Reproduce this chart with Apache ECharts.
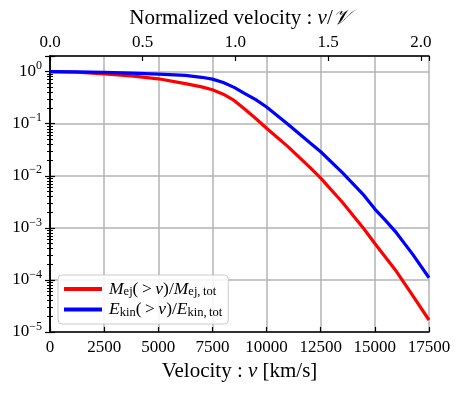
<!DOCTYPE html>
<html>
<head>
<meta charset="utf-8">
<script src="https://cdn.jsdelivr.net/npm/echarts@6/dist/echarts.min.js"></script>
<style>html,body{margin:0;padding:0;background:#fff;}#c{width:463px;height:393px;}</style>
</head>
<body>
<div id="c"></div>
<script>
// ---- data ----
const velocity = [0, 1250, 2500, 3750, 5000, 6250, 7000, 7500, 8000, 8500, 9000, 9500, 10000, 11000, 12000, 12500, 13500, 14500, 15000, 15500, 16000, 16750, 17500];
const massFrac = [1.0, 0.975, 0.91, 0.83, 0.73, 0.59, 0.51, 0.45, 0.37, 0.28, 0.19, 0.126, 0.082, 0.036, 0.0145, 0.009, 0.0031, 0.00095, 0.0005, 0.00027, 0.000145, 0.00005, 0.000017];
const energyFrac = [1.0, 0.99, 0.97, 0.94, 0.90, 0.85, 0.78, 0.72, 0.62, 0.50, 0.38, 0.29, 0.21, 0.097, 0.043, 0.029, 0.0115, 0.0042, 0.0023, 0.00138, 0.0008, 0.00031, 0.00011];
const xTicks = [0, 2500, 5000, 7500, 10000, 12500, 15000, 17500];
const topTicks = [0.0, 0.5, 1.0, 1.5, 2.0];
const vScale = 8565; // characteristic velocity (km/s) for the top axis
const xMax = 17500;
const yMin = 1e-5, yMax = 2;

const FONT = '"Liberation Serif", "DejaVu Serif", serif';
const gridColor = '#b3b3b3';

function pairs(xs, ys) { return xs.map((x, i) => [x, ys[i]]); }

function supLabel(v) {
  const e = Math.log10(v);
  const r = Math.round(e);
  if (Math.abs(e - r) > 1e-6) return '';
  const s = r < 0 ? '\u2212' + (-r) : String(r);
  return '{b|10}{e|' + s + '}';
}

const richY = {
  b: { fontFamily: FONT, fontSize: 17, color: '#000' },
  e: { fontFamily: FONT, fontSize: 12, color: '#000', padding: [0, 0, 11, 0] }
};

const chart = echarts.init(document.getElementById('c'), null, { renderer: 'canvas' });

const legendRich = {
  i: { fontFamily: FONT, fontSize: 17.5, fontStyle: 'italic', color: '#000' },
  n: { fontFamily: FONT, fontSize: 17.5, color: '#000' },
  s: { fontFamily: FONT, fontSize: 12.5, color: '#000', padding: [6, 0, 0, 0] }
};

const option = {
  animation: false,
  backgroundColor: '#fff',
  grid: { left: 50, right: 34, top: 56, bottom: 61, containLabel: false, outerBoundsMode: 'none' },
  legend: {
    orient: 'vertical',
    left: 58, top: 275,
    itemWidth: 38, itemHeight: 4,
    itemGap: 2,
    icon: 'rect',
    padding: [5, 6, 5, 6],
    backgroundColor: 'rgba(255,255,255,0.85)',
    borderColor: '#cccccc', borderWidth: 1, borderRadius: 4,
    data: ['M', 'E'],
    formatter: function (name) {
      if (name === 'M') return '{i|M}{s|ej}{n|(\u2009>\u2009}{i|v}{n|)/}{i|M}{s|ej,\u2009tot}';
      return '{i|E}{s|kin}{n|(\u2009>\u2009}{i|v}{n|)/}{i|E}{s|kin,\u2009tot}';
    },
    textStyle: { rich: legendRich, padding: [0, 0, 0, 2] }
  },
  xAxis: [
    {
      type: 'value', position: 'bottom', min: 0, max: xMax, interval: 2500,
      name: '{n|Velocity : }{i|v}{n| [km/s]}', nameLocation: 'middle', nameGap: 28,
      nameTextStyle: { rich: {
        n: { fontFamily: FONT, fontSize: 21, color: '#000' },
        i: { fontFamily: FONT, fontSize: 21, fontStyle: 'italic', color: '#000' } } },
      axisLine: { show: true, lineStyle: { color: '#000', width: 1.5 } },
      axisTick: { show: true, inside: true, length: 5, lineStyle: { color: '#000', width: 1.2 } },
      axisLabel: { fontFamily: FONT, fontSize: 17, color: '#000', margin: 7,
        formatter: v => xTicks.indexOf(v) >= 0 ? String(v) : '' },
      splitLine: { show: true, lineStyle: { color: gridColor, width: 1.5 } }
    },
    {
      type: 'value', position: 'top', min: 0, max: xMax / vScale, interval: 0.5,
      name: '{n|Normalized velocity : }{i|v}{n|/}{i|\uD835\uDCB1}', nameLocation: 'middle', nameGap: 21,
      nameTextStyle: { rich: {
        n: { fontFamily: FONT, fontSize: 21, color: '#000' },
        i: { fontFamily: FONT, fontSize: 21, fontStyle: 'italic', color: '#000' } } },
      axisLine: { show: true, lineStyle: { color: '#000', width: 1.5 } },
      axisTick: { show: true, inside: true, length: 5, lineStyle: { color: '#000', width: 1.2 } },
      axisLabel: { fontFamily: FONT, fontSize: 17, color: '#000', margin: 5,
        formatter: v => topTicks.some(t => Math.abs(t - v) < 1e-9) ? v.toFixed(1) : '' },
      splitLine: { show: false }
    }
  ],
  yAxis: [
    {
      type: 'log', logBase: 10, position: 'left', min: yMin, max: yMax,
      axisLine: { show: true, lineStyle: { color: '#000', width: 1.5 } },
      axisTick: { show: true, inside: true, length: 5, lineStyle: { color: '#000', width: 1.2 } },
      minorTick: { show: true, splitNumber: 9, length: 3, lineStyle: { color: '#000', width: 1 } },
      axisLabel: { margin: 8, formatter: supLabel, rich: richY },
      splitLine: { show: true, lineStyle: { color: gridColor, width: 1.5 } }
    },
    {
      type: 'log', logBase: 10, position: 'right', min: yMin, max: yMax,
      axisLine: { show: true, lineStyle: { color: '#000', width: 1.5 } },
      axisTick: { show: true, inside: true, length: 5, lineStyle: { color: '#000', width: 1.2 } },
      minorTick: { show: true, splitNumber: 9, length: 3, lineStyle: { color: '#000', width: 1 } },
      axisLabel: { show: false },
      splitLine: { show: false }
    }
  ],
  series: [
    {
      name: 'M', type: 'line', xAxisIndex: 0, yAxisIndex: 0,
      data: pairs(velocity, massFrac), showSymbol: false, symbol: 'none',
      smooth: false,
      lineStyle: { color: '#ff0000', width: 3.2 }, itemStyle: { color: '#ff0000' }, z: 3
    },
    {
      name: 'E', type: 'line', xAxisIndex: 0, yAxisIndex: 0,
      data: pairs(velocity, energyFrac), showSymbol: false, symbol: 'none',
      smooth: false,
      lineStyle: { color: '#0000ff', width: 3.2 }, itemStyle: { color: '#0000ff' }, z: 4
    }
  ]
};
chart.setOption(option);
</script>
</body>
</html>
